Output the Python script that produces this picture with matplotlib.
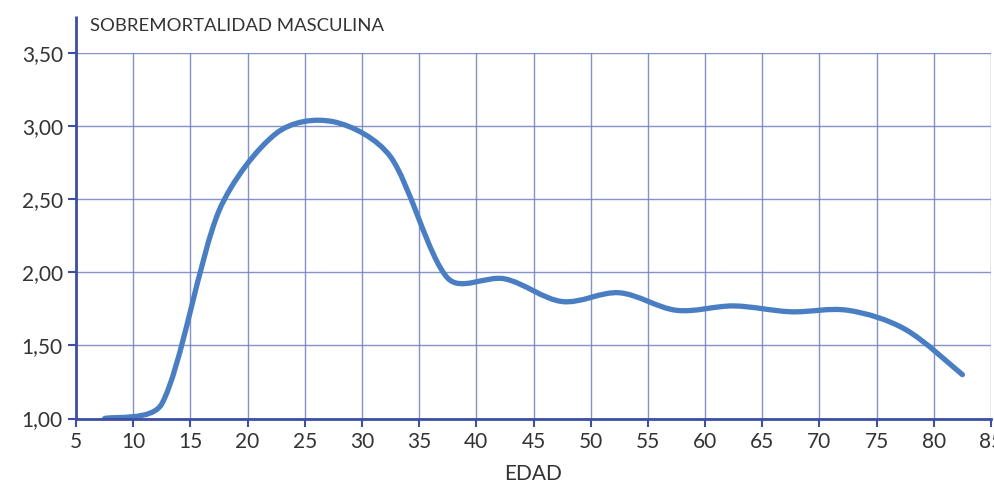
import numpy as np
import matplotlib
matplotlib.use("Agg")
import matplotlib.pyplot as plt
from matplotlib.path import Path
from matplotlib.patches import PathPatch

# Age group midpoints and male excess mortality ratio
edad = [7.5, 12.5, 17.5, 22.5, 27.5, 32.5, 37.5, 42.5, 47.5, 52.5,
        57.5, 62.5, 67.5, 72.5, 77.5, 82.5]
sobremortalidad = [1.00, 1.10, 2.42, 2.95, 3.03, 2.79, 1.96, 1.955, 1.80, 1.86,
                   1.74, 1.77, 1.73, 1.74, 1.61, 1.30]

x_ticks = list(range(5, 90, 5))
y_ticks = [1.0, 1.5, 2.0, 2.5, 3.0, 3.5]
y_labels = ['1,00', '1,50', '2,00', '2,50', '3,00', '3,50']

AXIS_C = '#3d4ea3'
GRID_C = '#7080c0'
LINE_C = '#4a7ec2'
TEXT_C = '#333333'
FONT = 'Lato'

# rough screen scale (px per data unit) used for the curve smoothing
SX, SY = 11.44, 146.0


def smooth_path(xs, ys):
    # spreadsheet-style "smoothed line": cubic bezier segments through the points,
    # handle lengths capped by the segment length so short segments don't overshoot
    pts = np.column_stack([np.asarray(xs) * SX, np.asarray(ys) * SY])
    n = len(pts)
    tang = []
    for i in range(n):
        a = pts[max(i - 1, 0)]
        b = pts[min(i + 1, n - 1)]
        tang.append((b - a) / 6.0)
    verts = [pts[0]]
    codes = [Path.MOVETO]
    for i in range(n - 1):
        p1, p2 = pts[i], pts[i + 1]
        seg = np.hypot(*(p2 - p1))
        t1, t2 = tang[i], tang[i + 1]
        l1, l2 = np.hypot(*t1), np.hypot(*t2)
        cap = seg / 3.0
        if l1 > cap:
            t1 = t1 * cap / l1
        if l2 > cap:
            t2 = t2 * cap / l2
        verts += [p1 + t1, p2 - t2, p2]
        codes += [Path.CURVE4] * 3
    verts = np.array(verts) / np.array([SX, SY])
    return Path(verts, codes)


fig = plt.figure(figsize=(9.95, 4.84), dpi=100)
ax = fig.add_axes([76 / 995, 1 - 418.5 / 484, (991 - 76) / 995, (418.5 - 53) / 484])

ax.set_xlim(5, 85)
ax.set_ylim(1.0, 3.5)
ax.set_xticks(x_ticks)
ax.set_yticks(y_ticks)
ax.set_yticklabels(y_labels)

ax.grid(True, color=GRID_C, linewidth=1.0, alpha=0.85)
ax.set_axisbelow(True)
for s in ['top', 'right']:
    ax.spines[s].set_visible(False)
for s in ['left', 'bottom']:
    ax.spines[s].set_color(AXIS_C)
    ax.spines[s].set_linewidth(2)
# left axis line runs a bit above the plot area
ax.plot([0, 0], [1.0, 1.1], transform=ax.transAxes, color=AXIS_C, lw=2,
        clip_on=False, solid_capstyle='butt')

ax.tick_params(axis='both', direction='out', length=6, width=1.5, color=AXIS_C,
               labelcolor=TEXT_C, labelsize=15)
ax.tick_params(axis='x', pad=4)
for lbl in ax.get_xticklabels() + ax.get_yticklabels():
    lbl.set_fontfamily(FONT)

patch = PathPatch(smooth_path(edad, sobremortalidad), facecolor='none',
                  edgecolor=LINE_C, linewidth=3.8, capstyle='round', joinstyle='round')
ax.add_patch(patch)

ax.set_xlabel('EDAD', fontsize=15, color=TEXT_C, family=FONT, labelpad=8)
fig.text(90 / 995, 1 - 26 / 484, 'SOBREMORTALIDAD MASCULINA', fontsize=13.3,
         color=TEXT_C, family=FONT, va='center', ha='left')

fig.savefig('out.png', dpi=100)
